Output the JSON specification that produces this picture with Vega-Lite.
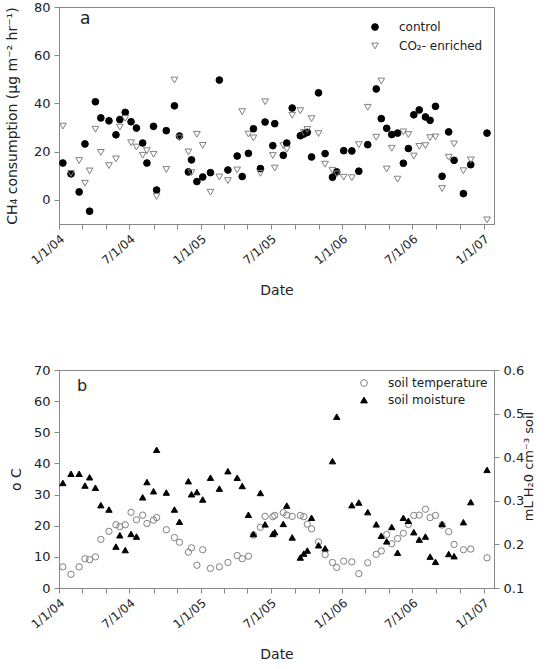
{
  "$schema": "https://vega.github.io/schema/vega-lite/v6.json",
  "padding": {"left": 4, "top": 0, "right": 0, "bottom": 0},
  "spacing": 65,
  "resolve": {
    "scale": {"shape": "independent", "fill": "independent", "stroke": "independent"},
    "legend": {"shape": "independent", "fill": "independent", "stroke": "independent"}
  },
  "config": {
    "font": "DejaVu Sans",
    "view": {"stroke": "#888888", "strokeWidth": 1},
    "axis": {"grid": false, "domainColor": "#888888", "tickColor": "#888888", "labelColor": "#222222", "titleColor": "#222222", "labelFont": "DejaVu Sans", "titleFont": "DejaVu Sans", "labelFontSize": 13, "titleFontSize": 14, "titleFontWeight": "normal", "tickSize": 5, "labelPadding": 4, "labelOverlap": false, "labelBound": false, "labelFlush": false},
    "legend": {"labelFont": "DejaVu Sans", "labelFontSize": 12, "labelColor": "#222222", "padding": 0, "symbolStrokeWidth": 1, "symbolSize": 45},
    "title": {"font": "DejaVu Sans", "fontWeight": "normal", "color": "#222222", "anchor": "start", "frame": "group", "baseline": "alphabetic"}
  },
  "datasets": {
    "obs": [
      {"date": "2004-01-11", "control": 15.3, "co2": 30.6, "temp": 6.8, "moist": 0.341},
      {"date": "2004-02-01", "control": 10.8, "co2": 11.0, "temp": 4.4, "moist": 0.362},
      {"date": "2004-02-22", "control": 3.3, "co2": 16.3, "temp": 6.8, "moist": 0.362},
      {"date": "2004-03-08", "control": 23.2, "co2": 6.9, "temp": 9.4, "moist": 0.335},
      {"date": "2004-03-20", "control": -4.7, "co2": 12.0, "temp": 9.1, "moist": 0.354},
      {"date": "2004-04-04", "control": 40.7, "co2": 29.3, "temp": 10.0, "moist": 0.330},
      {"date": "2004-04-18", "control": 34.0, "co2": 19.7, "temp": 15.6, "moist": 0.290},
      {"date": "2004-05-09", "control": 32.8, "co2": 14.2, "temp": 18.2, "moist": 0.280},
      {"date": "2004-05-27", "control": 27.0, "co2": 17.0, "temp": 20.3, "moist": 0.195},
      {"date": "2004-06-06", "control": 33.3, "co2": 30.2, "temp": 19.7, "moist": 0.221},
      {"date": "2004-06-20", "control": 36.3, "co2": 33.8, "temp": 20.3, "moist": 0.187},
      {"date": "2004-07-05", "control": 32.4, "co2": 23.7, "temp": 24.3, "moist": 0.224},
      {"date": "2004-07-19", "control": 29.8, "co2": 21.9, "temp": 21.9, "moist": 0.218},
      {"date": "2004-08-04", "control": 23.6, "co2": 18.5, "temp": 23.4, "moist": 0.308},
      {"date": "2004-08-15", "control": 15.3, "co2": 20.4, "temp": 20.7, "moist": 0.343},
      {"date": "2004-09-01", "control": 30.5, "co2": 18.9, "temp": 21.8, "moist": 0.322},
      {"date": "2004-09-09", "control": 4.1, "co2": 1.4, "temp": 22.6, "moist": 0.417},
      {"date": "2004-10-04", "control": 28.7, "co2": 12.6, "temp": 18.7, "moist": 0.319},
      {"date": "2004-10-25", "control": 39.0, "co2": 49.7, "temp": 16.2, "moist": 0.280},
      {"date": "2004-11-07", "control": 26.5, "co2": 25.7, "temp": 14.7, "moist": 0.252},
      {"date": "2004-11-30", "control": 11.6, "co2": 19.9, "temp": 11.5, "moist": 0.345},
      {"date": "2004-12-08", "control": 16.6, "co2": 11.3, "temp": 12.9, "moist": 0.315},
      {"date": "2004-12-22", "control": 7.6, "co2": 27.2, "temp": 7.3, "moist": 0.320},
      {"date": "2005-01-06", "control": 9.5, "co2": 22.6, "temp": 12.3, "moist": 0.303},
      {"date": "2005-01-26", "control": 11.3, "co2": 3.2, "temp": 6.3, "moist": 0.353},
      {"date": "2005-02-18", "control": 49.7, "co2": 9.5, "temp": 6.8, "moist": 0.328},
      {"date": "2005-03-12", "control": 12.4, "co2": 8.0, "temp": 8.2, "moist": 0.368},
      {"date": "2005-04-05", "control": 18.2, "co2": 12.4, "temp": 10.4, "moist": 0.353},
      {"date": "2005-04-18", "control": 9.7, "co2": 36.6, "temp": 9.4, "moist": 0.334},
      {"date": "2005-05-04", "control": 19.3, "co2": 27.3, "temp": 10.2, "moist": 0.268},
      {"date": "2005-05-17", "control": 29.5, "co2": 25.7, "temp": 17.0, "moist": 0.224},
      {"date": "2005-06-04", "control": 13.0, "co2": 11.0, "temp": 19.5, "moist": 0.318},
      {"date": "2005-06-16", "control": 32.3, "co2": 40.7, "temp": 23.0, "moist": 0.246},
      {"date": "2005-07-06", "control": 22.5, "co2": 18.4, "temp": 22.9, "moist": 0.224},
      {"date": "2005-07-11", "control": 31.6, "co2": 13.2, "temp": 23.3, "moist": 0.228},
      {"date": "2005-08-02", "control": 18.5, "co2": 22.5, "temp": 24.2, "moist": 0.247},
      {"date": "2005-08-11", "control": 23.6, "co2": 21.0, "temp": 23.4, "moist": 0.289},
      {"date": "2005-08-25", "control": 38.1, "co2": 35.1, "temp": 23.0, "moist": 0.216},
      {"date": "2005-09-15", "control": 26.6, "co2": 37.0, "temp": 23.3, "moist": 0.170},
      {"date": "2005-09-24", "control": 27.3, "co2": 28.0, "temp": 22.9, "moist": 0.179},
      {"date": "2005-10-03", "control": 28.0, "co2": 29.2, "temp": 20.5, "moist": 0.186},
      {"date": "2005-10-14", "control": 17.8, "co2": 33.7, "temp": 19.0, "moist": 0.261},
      {"date": "2005-11-01", "control": 44.4, "co2": 27.5, "temp": 14.8, "moist": 0.198},
      {"date": "2005-11-18", "control": 19.2, "co2": 14.8, "temp": 10.7, "moist": 0.191},
      {"date": "2005-12-07", "control": 9.4, "co2": 12.3, "temp": 8.2, "moist": 0.391},
      {"date": "2005-12-18", "control": 11.6, "co2": 10.8, "temp": 6.6, "moist": 0.493},
      {"date": "2006-01-05", "control": 20.4, "co2": 9.4, "temp": 8.6, "moist": null},
      {"date": "2006-01-26", "control": 20.3, "co2": 9.2, "temp": 8.4, "moist": 0.290},
      {"date": "2006-02-13", "control": 11.9, "co2": 22.9, "temp": 4.6, "moist": 0.296},
      {"date": "2006-03-08", "control": 22.9, "co2": 38.4, "temp": 8.1, "moist": 0.274},
      {"date": "2006-03-30", "control": 46.0, "co2": 26.0, "temp": 10.8, "moist": 0.246},
      {"date": "2006-04-12", "control": 33.7, "co2": 49.3, "temp": 11.9, "moist": 0.220},
      {"date": "2006-04-26", "control": 29.7, "co2": 12.8, "temp": 17.2, "moist": 0.207},
      {"date": "2006-05-09", "control": 27.1, "co2": 21.4, "temp": 14.2, "moist": 0.240},
      {"date": "2006-05-24", "control": 27.7, "co2": 8.6, "temp": 15.9, "moist": 0.181},
      {"date": "2006-06-08", "control": 15.2, "co2": 28.2, "temp": 17.6, "moist": 0.261},
      {"date": "2006-06-21", "control": 21.3, "co2": 27.1, "temp": 20.4, "moist": 0.254},
      {"date": "2006-07-05", "control": 35.3, "co2": 18.2, "temp": 23.3, "moist": 0.228},
      {"date": "2006-07-19", "control": 37.3, "co2": 22.2, "temp": 23.4, "moist": 0.211},
      {"date": "2006-08-04", "control": 34.4, "co2": 22.5, "temp": 25.3, "moist": 0.218},
      {"date": "2006-08-16", "control": 33.0, "co2": 25.8, "temp": 22.6, "moist": 0.172},
      {"date": "2006-08-30", "control": 38.8, "co2": 26.1, "temp": 23.3, "moist": 0.160},
      {"date": "2006-09-16", "control": 9.8, "co2": 4.7, "temp": 20.2, "moist": 0.247},
      {"date": "2006-10-03", "control": 28.2, "co2": 17.7, "temp": 18.1, "moist": 0.178},
      {"date": "2006-10-17", "control": 16.4, "co2": 23.2, "temp": 14.0, "moist": 0.173},
      {"date": "2006-11-10", "control": 2.6, "co2": 12.1, "temp": 12.3, "moist": 0.251},
      {"date": "2006-11-29", "control": 14.6, "co2": 16.6, "temp": 12.5, "moist": 0.297},
      {"date": "2007-01-10", "control": 27.7, "co2": -8.3, "temp": 9.7, "moist": 0.371}
    ]
  },
  "vconcat": [
    {
      "width": 435,
      "height": 217,
      "title": {"text": "a", "fontSize": 17, "offset": -27, "dx": 21},
      "data": {"name": "obs"},
      "transform": [
        {"fold": ["control", "co2"], "as": ["series", "value"]},
        {"filter": "isValid(datum.value)"}
      ],
      "mark": {"type": "point", "opacity": 1, "strokeWidth": 1, "size": 45},
      "encoding": {
        "x": {
          "field": "date", "type": "temporal",
          "scale": {"type": "utc", "domain": [{"year": 2004, "month": 1, "date": 1, "utc": true}, {"year": 2007, "month": 1, "date": 28, "utc": true}]},
          "axis": {
            "title": "Date", "titlePadding": 17, "labelAngle": -40, "labelFontSize": 12, "labelOverlap": false,
            "values": [
              {"year": 2004, "month": 1, "date": 1, "utc": true}, {"year": 2004, "month": 3, "date": 1, "utc": true}, {"year": 2004, "month": 5, "date": 1, "utc": true},
              {"year": 2004, "month": 7, "date": 1, "utc": true}, {"year": 2004, "month": 9, "date": 1, "utc": true}, {"year": 2004, "month": 11, "date": 1, "utc": true},
              {"year": 2005, "month": 1, "date": 1, "utc": true}, {"year": 2005, "month": 3, "date": 1, "utc": true}, {"year": 2005, "month": 5, "date": 1, "utc": true},
              {"year": 2005, "month": 7, "date": 1, "utc": true}, {"year": 2005, "month": 9, "date": 1, "utc": true}, {"year": 2005, "month": 11, "date": 1, "utc": true},
              {"year": 2006, "month": 1, "date": 1, "utc": true}, {"year": 2006, "month": 3, "date": 1, "utc": true}, {"year": 2006, "month": 5, "date": 1, "utc": true},
              {"year": 2006, "month": 7, "date": 1, "utc": true}, {"year": 2006, "month": 9, "date": 1, "utc": true}, {"year": 2006, "month": 11, "date": 1, "utc": true},
              {"year": 2007, "month": 1, "date": 1, "utc": true}
            ],
            "labelExpr": "(utcmonth(datum.value) == 0 || utcmonth(datum.value) == 6) ? utcFormat(datum.value, '%-m/%-d/%y') : ' '"
          }
        },
        "y": {
          "field": "value", "type": "quantitative",
          "scale": {"domain": [-10, 80], "nice": false, "zero": false},
          "axis": {"values": [0, 20, 40, 60, 80], "title": "CH₄ consumption (μg m⁻² hr⁻¹)", "titlePadding": 14, "labelOverlap": false}
        },
        "shape": {
          "field": "series", "type": "nominal",
          "scale": {"domain": ["control", "co2"], "range": ["circle", "triangle-down"]},
          "legend": {"orient": "none", "legendX": 310, "legendY": 14, "title": null, "labelOffset": 18, "rowPadding": 7, "labelExpr": "datum.label == 'co2' ? 'CO₂- enriched' : 'control'"}
        },
        "fill": {
          "field": "series", "type": "nominal",
          "scale": {"domain": ["control", "co2"], "range": ["#000000", "transparent"]},
          "legend": {"orient": "none", "legendX": 310, "legendY": 14, "title": null, "labelOffset": 18, "rowPadding": 7, "labelExpr": "datum.label == 'co2' ? 'CO₂- enriched' : 'control'"}
        },
        "stroke": {
          "field": "series", "type": "nominal",
          "scale": {"domain": ["control", "co2"], "range": ["#000000", "#808080"]},
          "legend": {"orient": "none", "legendX": 310, "legendY": 14, "title": null, "labelOffset": 18, "rowPadding": 7, "labelExpr": "datum.label == 'co2' ? 'CO₂- enriched' : 'control'"}
        }
      }
    },
    {
      "width": 435,
      "height": 218,
      "title": {"text": "b", "fontSize": 16, "offset": -30, "dx": 18},
      "data": {"name": "obs"},
      "encoding": {
        "x": {
          "field": "date", "type": "temporal",
          "scale": {"type": "utc", "domain": [{"year": 2004, "month": 1, "date": 1, "utc": true}, {"year": 2007, "month": 1, "date": 28, "utc": true}]},
          "axis": {
            "title": "Date", "titlePadding": 17, "labelAngle": -40, "labelFontSize": 12, "labelOverlap": false,
            "values": [
              {"year": 2004, "month": 1, "date": 1, "utc": true}, {"year": 2004, "month": 3, "date": 1, "utc": true}, {"year": 2004, "month": 5, "date": 1, "utc": true},
              {"year": 2004, "month": 7, "date": 1, "utc": true}, {"year": 2004, "month": 9, "date": 1, "utc": true}, {"year": 2004, "month": 11, "date": 1, "utc": true},
              {"year": 2005, "month": 1, "date": 1, "utc": true}, {"year": 2005, "month": 3, "date": 1, "utc": true}, {"year": 2005, "month": 5, "date": 1, "utc": true},
              {"year": 2005, "month": 7, "date": 1, "utc": true}, {"year": 2005, "month": 9, "date": 1, "utc": true}, {"year": 2005, "month": 11, "date": 1, "utc": true},
              {"year": 2006, "month": 1, "date": 1, "utc": true}, {"year": 2006, "month": 3, "date": 1, "utc": true}, {"year": 2006, "month": 5, "date": 1, "utc": true},
              {"year": 2006, "month": 7, "date": 1, "utc": true}, {"year": 2006, "month": 9, "date": 1, "utc": true}, {"year": 2006, "month": 11, "date": 1, "utc": true},
              {"year": 2007, "month": 1, "date": 1, "utc": true}
            ],
            "labelExpr": "(utcmonth(datum.value) == 0 || utcmonth(datum.value) == 6) ? utcFormat(datum.value, '%-m/%-d/%y') : ' '"
          }
        }
      },
      "layer": [
        {
          "transform": [
            {"fold": ["temp"], "as": ["series", "value"]},
            {"filter": "isValid(datum.value)"}
          ],
          "mark": {"type": "point", "opacity": 1, "strokeWidth": 1, "size": 40},
          "encoding": {
            "y": {
              "field": "value", "type": "quantitative",
              "scale": {"domain": [0, 70], "nice": false, "zero": false},
              "axis": {"values": [0, 10, 20, 30, 40, 50, 60, 70], "title": "o C", "titlePadding": 10, "labelOverlap": false, "titleAlign": "center", "titleAnchor": "middle"}
            },
            "shape": {
              "field": "series", "type": "nominal",
              "scale": {"domain": ["temp", "moist"], "range": ["circle", "triangle-up"]},
              "legend": {"orient": "none", "legendX": 299, "legendY": 7, "title": null, "labelOffset": 18, "rowPadding": 5, "labelExpr": "datum.label == 'temp' ? 'soil temperature' : 'soil moisture'"}
            },
            "fill": {
              "field": "series", "type": "nominal",
              "scale": {"domain": ["temp", "moist"], "range": ["transparent", "#000000"]},
              "legend": {"orient": "none", "legendX": 299, "legendY": 7, "title": null, "labelOffset": 18, "rowPadding": 5, "labelExpr": "datum.label == 'temp' ? 'soil temperature' : 'soil moisture'"}
            },
            "stroke": {
              "field": "series", "type": "nominal",
              "scale": {"domain": ["temp", "moist"], "range": ["#808080", "#000000"]},
              "legend": {"orient": "none", "legendX": 299, "legendY": 7, "title": null, "labelOffset": 18, "rowPadding": 5, "labelExpr": "datum.label == 'temp' ? 'soil temperature' : 'soil moisture'"}
            }
          }
        },
        {
          "transform": [
            {"fold": ["moist"], "as": ["series", "value"]},
            {"filter": "isValid(datum.value)"}
          ],
          "mark": {"type": "point", "opacity": 1, "strokeWidth": 1, "size": 40},
          "encoding": {
            "y": {
              "field": "value", "type": "quantitative",
              "scale": {"domain": [0.1, 0.6], "nice": false, "zero": false},
              "axis": {"orient": "right", "values": [0.1, 0.2, 0.3, 0.4, 0.5, 0.6], "format": ".1f", "title": "mL H₂0 cm⁻³ soil", "titleFontSize": 13, "titleAngle": -90, "titleAlign": "center", "titleAnchor": "middle", "titleY": 96, "titlePadding": 12, "labelOverlap": false}
            },
            "shape": {"field": "series", "type": "nominal"},
            "fill": {"field": "series", "type": "nominal"},
            "stroke": {"field": "series", "type": "nominal"}
          }
        }
      ],
      "resolve": {"scale": {"y": "independent"}}
    }
  ]
}
